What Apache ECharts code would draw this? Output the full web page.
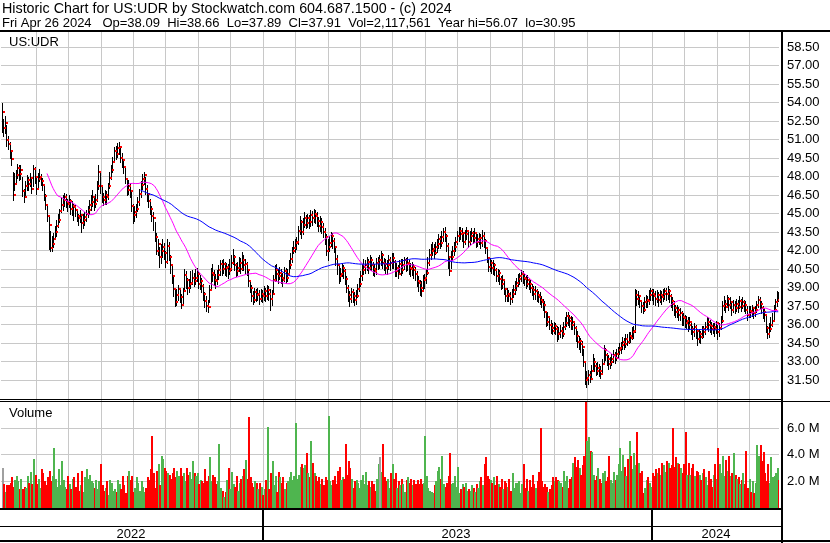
<!DOCTYPE html>
<html>
<head>
<meta charset="utf-8">
<title>Historic Chart for US:UDR</title>
<script src="https://cdn.jsdelivr.net/npm/echarts@6.0.0/dist/echarts.min.js"></script>
<style>
html,body{margin:0;padding:0;background:#fff;overflow:hidden;}
#chart{width:830px;height:543px;}
</style>
</head>
<body>
<div id="chart"></div>
<script>
// ---------------- DATA ----------------
const headerLine1 = 'Historic Chart for US:UDR by Stockwatch.com 604.687.1500 - (c) 2024';
const headerLine2 = 'Fri Apr 26 2024   Op=38.09  Hi=38.66  Lo=37.89  Cl=37.91  Vol=2,117,561  Year hi=56.07  lo=30.95';
const symbolLabel = 'US:UDR';
const volumeLabel = 'Volume';
const yearLabels = ['2022', '2023', '2024'];
const firstTradingDay = '2022-05-03';
const marketHolidays = ['2022-05-30','2022-06-20','2022-07-04','2022-09-05','2022-11-24','2022-12-26',
  '2023-01-02','2023-01-16','2023-02-20','2023-04-07','2023-05-29','2023-06-19','2023-07-04','2023-09-04',
  '2023-11-23','2023-12-25','2024-01-01','2024-01-15','2024-02-19','2024-03-29'];

const closes = [
53.2,51.9,52.3,51.0,50.6,50.1,49.4,46.5,47.4,48.1,
48.7,48.2,48.5,46.8,46.3,47.2,47.7,47.4,47.9,47.0,
48.6,48.0,47.0,47.8,48.0,47.6,47.3,46.4,45.7,44.8,
44.1,42.2,42.5,42.9,43.5,44.0,44.5,45.2,45.7,46.1,
46.3,45.9,45.8,46.0,45.4,45.6,45.5,45.3,44.8,44.6,
44.9,44.2,44.5,44.7,45.0,45.3,45.7,45.9,46.3,45.8,
46.1,47.2,48.4,47.2,46.3,46.1,46.5,46.3,47.2,47.9,
48.5,49.2,50.1,49.8,50.3,50.4,49.5,49.3,48.8,47.8,
46.9,47.2,46.8,45.6,44.9,45.1,45.4,45.9,46.6,47.3,
47.8,48.1,47.0,46.6,46.0,45.4,44.8,44.6,43.1,42.0,
42.5,41.5,42.0,42.3,41.8,41.1,42.4,41.5,40.8,39.9,
38.9,37.8,38.4,38.9,38.2,37.6,38.7,40.0,39.6,39.0,
39.3,39.4,39.8,39.5,39.8,40.1,39.3,39.5,39.1,38.5,
37.9,37.5,37.4,38.8,40.2,40.0,39.6,39.5,40.0,40.4,
40.9,40.5,40.9,40.6,40.7,40.3,40.5,41.0,41.5,40.8,
40.3,40.6,41.0,40.5,41.2,40.8,40.9,40.4,39.5,39.0,
38.3,38.0,38.6,38.4,38.5,38.1,38.5,38.3,38.7,38.3,
38.8,38.5,38.1,38.5,39.6,40.4,40.1,39.9,40.2,39.8,
39.6,40.3,39.8,40.1,40.8,41.3,42.0,42.2,42.6,42.7,
43.6,44.3,43.5,44.1,44.6,44.2,44.6,44.3,44.9,44.6,
45.0,44.8,44.4,44.0,44.3,43.9,43.5,43.1,42.0,42.3,
42.6,43.2,42.8,42.3,41.3,40.8,39.9,40.1,40.6,40.3,
39.7,39.0,38.4,38.1,38.6,38.3,38.0,38.3,38.9,39.3,
39.9,40.4,40.7,40.8,41.1,40.6,41.2,40.8,40.5,40.3,
41.0,41.2,41.2,41.6,41.0,40.9,40.6,40.8,41.2,41.0,
41.4,41.1,40.3,40.6,40.1,40.9,40.4,40.8,41.2,40.9,
41.0,40.6,40.5,40.7,40.4,40.1,39.5,39.4,39.0,38.7,
39.6,39.8,40.2,41.0,41.6,42.0,42.1,41.8,42.3,42.5,
42.9,42.6,43.1,43.5,43.2,42.4,41.5,40.3,41.5,42.0,
42.3,42.7,43.2,43.6,43.3,43.4,42.7,43.3,43.6,42.7,
43.2,43.4,43.0,43.4,42.7,42.9,43.0,42.6,43.2,42.8,
42.2,41.4,40.7,41.0,40.6,40.8,40.4,39.9,40.2,39.7,
39.3,39.6,38.9,38.3,38.5,38.3,38.1,38.5,38.8,39.1,
39.4,39.7,39.9,40.1,39.8,39.7,39.3,39.6,39.3,39.0,
38.8,38.5,38.7,38.4,38.2,38.0,37.8,37.6,37.0,36.2,
36.6,36.0,35.7,35.5,35.9,35.6,35.2,35.3,35.5,35.2,
35.8,36.1,36.7,36.5,36.3,36.0,36.2,35.7,35.1,34.6,
34.7,34.4,34.2,33.0,31.5,31.7,31.9,31.6,32.2,33.0,
32.6,32.2,32.5,32.2,32.0,32.8,33.9,33.5,33.2,32.8,
33.0,33.2,33.5,33.3,33.6,33.9,34.1,34.3,34.6,34.4,
34.8,34.6,35.1,34.9,35.4,35.5,38.4,38.1,38.3,37.9,
37.5,37.2,37.8,38.0,37.9,38.4,38.7,38.5,38.3,38.1,
38.4,38.0,38.4,38.2,38.5,38.7,38.5,38.7,38.3,37.9,
37.7,37.3,37.0,37.2,36.8,36.9,36.6,36.5,36.1,36.3,
36.0,36.2,35.6,35.4,35.8,35.5,34.8,35.2,35.0,35.6,
35.4,35.8,36.2,36.0,35.9,35.6,35.8,35.6,36.1,35.4,
35.7,36.3,37.5,37.7,37.4,38.1,37.6,37.8,37.2,37.6,
37.3,37.7,37.4,37.9,37.5,37.8,37.6,37.2,36.8,37.1,
37.0,37.3,36.9,37.2,37.6,38.0,37.7,37.3,37.0,36.8,
35.7,35.2,35.6,36.0,36.3,37.2,37.8,38.0,37.91
];

const highs = [
54.0,52.7,52.9,52.2,51.3,50.8,50.0,48.4,48.3,48.5,
49.0,48.9,48.9,48.0,47.0,47.6,48.1,48.0,48.3,48.0,
48.9,48.8,48.0,48.3,48.6,48.2,47.9,47.3,46.6,45.6,
44.9,43.6,43.2,43.4,44.0,44.5,45.0,45.4,46.3,46.5,
46.7,46.6,46.2,46.5,46.2,46.0,45.8,45.7,45.4,45.0,
45.3,44.9,45.0,45.1,45.3,45.6,46.1,46.5,46.9,46.4,
46.6,47.6,48.9,48.3,47.3,46.7,46.9,46.8,47.5,48.4,
48.9,49.6,50.4,50.5,50.7,50.8,50.4,49.9,49.4,48.8,
47.9,47.7,47.5,46.9,45.8,45.6,45.8,46.3,47.0,47.6,
48.2,48.4,48.0,47.3,46.7,46.2,45.6,45.1,44.3,43.4,
42.9,42.3,42.5,42.9,42.6,42.0,42.9,42.7,41.6,40.8,
39.9,38.9,38.9,39.2,38.9,38.5,39.0,40.5,40.3,39.8,
39.7,40.3,40.4,40.2,40.5,40.6,40.3,40.0,39.8,39.3,
38.6,38.3,38.0,39.2,40.6,40.9,40.4,40.1,40.4,40.8,
41.2,41.2,41.3,41.1,41.0,40.9,41.3,41.6,42.1,41.6,
41.0,41.1,41.5,41.4,41.9,41.6,41.3,41.1,40.4,39.6,
39.2,38.7,39.0,38.9,39.0,38.8,38.9,38.8,39.1,39.0,
39.2,39.1,38.9,38.8,40.0,40.8,40.9,40.5,40.7,40.5,
40.2,40.7,40.6,40.5,41.2,41.8,42.3,42.8,42.9,43.1,
44.0,44.8,44.5,44.6,45.1,44.9,45.0,44.9,45.3,45.2,
45.4,45.3,45.1,44.7,44.8,44.6,44.2,43.8,43.3,42.9,
43.2,43.5,43.4,43.0,42.3,41.6,40.9,40.6,41.0,40.8,
40.5,39.9,39.2,38.7,39.0,38.9,38.6,38.8,39.3,39.8,
40.3,40.9,41.3,41.2,41.5,41.3,41.6,41.5,41.1,40.9,
41.4,41.5,41.6,42.0,41.8,41.4,41.3,41.2,41.6,41.5,
41.8,41.8,41.2,41.0,40.8,41.2,41.3,41.3,41.5,41.4,
41.5,41.2,41.0,41.1,40.9,40.7,40.3,39.9,39.6,39.5,
40.0,40.1,40.5,41.5,42.1,42.5,42.7,42.5,42.7,42.9,
43.3,43.2,43.6,43.8,43.9,43.3,42.6,41.4,42.0,42.4,
42.7,43.1,43.6,43.9,43.9,43.8,43.5,43.7,43.9,43.6,
43.6,43.8,43.6,43.8,43.5,43.3,43.4,43.3,43.7,43.5,
42.9,42.3,41.5,41.4,41.2,41.2,41.0,40.6,40.5,40.4,
39.9,40.0,39.6,39.0,39.0,38.8,38.6,38.9,39.2,39.5,
39.8,40.1,40.2,40.4,40.3,40.1,40.0,40.0,39.8,39.6,
39.3,39.1,39.1,38.9,38.7,38.6,38.3,38.1,37.9,37.1,
37.0,36.7,36.4,36.1,36.2,36.1,35.9,35.8,36.0,35.8,
36.2,36.6,37.0,37.0,36.8,36.7,36.6,36.3,35.9,35.5,
35.1,34.9,34.7,34.0,33.0,32.2,32.3,32.2,32.7,33.6,
33.3,32.9,33.0,32.8,32.6,33.2,34.3,34.1,33.7,33.5,
33.4,33.6,33.9,33.8,34.0,34.2,34.5,34.6,35.0,34.9,
35.2,35.2,35.4,35.4,35.8,35.9,38.9,38.8,38.7,38.4,
38.0,37.8,38.2,38.4,38.3,38.8,39.0,38.9,38.9,38.7,
38.8,38.6,38.8,38.7,38.9,39.0,39.0,39.1,38.9,38.5,
38.2,37.9,37.6,37.6,37.4,37.3,37.1,36.9,36.8,36.7,
36.6,36.6,36.3,35.9,36.1,36.0,35.6,35.6,35.5,35.9,
35.9,36.2,36.6,36.5,36.4,36.2,36.1,36.1,36.3,36.0,
36.1,36.7,37.9,38.3,38.0,38.4,38.2,38.2,37.9,38.0,
37.9,38.1,38.0,38.3,38.1,38.2,38.0,37.9,37.5,37.5,
37.5,37.6,37.4,37.5,37.9,38.3,38.2,37.9,37.5,37.3,
36.8,35.9,36.1,36.6,36.9,37.6,38.1,38.7,38.66
];

const lows = [
51.6,51.3,51.5,50.5,50.2,49.5,48.9,46.1,46.9,47.4,
47.9,47.7,47.8,46.4,45.9,46.3,46.9,46.9,47.2,46.7,
47.2,47.5,46.6,47.0,47.6,47.3,46.9,46.1,45.4,44.4,
42.1,42.0,42.0,42.3,42.9,43.2,43.9,44.3,45.1,45.3,
45.6,45.5,45.2,45.5,45.0,44.9,44.5,44.8,44.4,44.1,
44.3,43.5,43.8,44.1,44.4,44.7,45.0,45.3,45.6,45.3,
45.5,46.0,47.0,46.7,45.9,45.7,45.8,45.8,46.2,47.1,
47.8,48.4,49.3,49.4,49.6,49.8,49.2,48.8,48.3,47.5,
46.5,46.6,46.3,45.2,44.2,44.4,44.7,45.2,45.7,46.3,
47.0,47.4,46.6,46.0,45.5,45.0,44.4,43.7,42.8,41.7,
41.6,40.7,41.0,41.5,41.3,40.7,41.0,41.2,40.2,39.4,
38.3,37.5,37.6,38.0,37.8,37.3,37.7,38.8,39.0,38.5,
38.6,39.0,39.3,39.1,39.3,39.5,39.0,38.9,38.6,38.0,
37.4,37.1,37.0,37.8,38.9,39.5,39.2,39.0,39.3,39.7,
40.0,40.0,40.2,40.0,39.9,39.8,40.1,40.4,40.9,40.4,
39.9,40.0,40.3,40.2,40.4,40.4,40.2,40.0,39.1,38.6,
37.9,37.7,37.8,37.9,38.0,37.7,37.9,37.8,38.0,37.9,
38.1,38.0,37.2,37.6,38.6,39.5,39.6,39.4,39.7,39.4,
39.1,39.5,39.4,39.5,40.0,40.6,41.1,41.8,41.9,42.1,
42.5,43.3,43.0,43.3,43.9,43.8,43.9,43.8,44.0,44.1,
44.3,44.2,44.0,43.6,43.6,43.4,43.1,42.5,41.6,41.2,
42.0,42.4,42.2,41.9,40.8,40.1,39.4,39.5,39.9,39.8,
39.3,38.6,37.9,37.5,37.8,37.8,37.6,37.7,38.2,38.7,
39.1,39.6,40.1,40.2,40.4,40.2,40.5,40.4,40.0,39.9,
40.1,40.5,40.6,40.8,40.6,40.4,40.2,40.1,40.5,40.4,
40.6,40.6,39.9,39.9,39.8,40.2,40.0,40.2,40.5,40.3,
40.4,40.1,39.9,40.0,39.8,39.6,39.1,38.7,38.4,38.3,
38.8,39.0,39.4,40.1,40.8,41.3,41.6,41.4,41.7,41.9,
42.2,42.2,42.4,42.8,42.8,42.0,40.6,40.0,40.6,41.2,
41.6,42.0,42.5,42.8,42.9,42.8,42.3,42.5,42.9,42.3,
42.5,42.8,42.6,42.7,42.3,42.4,42.5,42.2,42.4,42.3,
41.8,41.1,40.3,40.3,40.2,40.1,40.0,39.5,39.5,39.3,
38.9,39.0,38.5,37.9,37.9,37.9,37.7,37.8,38.2,38.5,
38.8,39.1,39.3,39.5,39.4,39.2,39.0,39.1,38.9,38.6,
38.4,38.1,38.1,37.9,37.8,37.7,37.4,37.2,36.6,35.9,
36.0,35.6,35.3,35.2,35.3,35.2,34.7,34.8,35.0,34.9,
35.1,35.6,35.9,36.0,35.8,35.6,35.6,35.2,34.7,34.2,
34.0,33.8,33.5,32.6,31.2,30.95,31.2,31.3,31.7,32.3,
32.2,31.9,32.0,31.8,31.7,32.1,32.9,33.1,32.7,32.4,
32.5,32.7,33.0,32.9,33.1,33.3,33.6,33.7,34.0,34.0,
34.2,34.3,34.5,34.6,34.8,34.9,35.4,37.6,37.7,37.4,
37.0,36.9,37.1,37.4,37.4,37.7,38.0,38.0,37.7,37.6,
37.8,37.5,37.8,37.7,37.9,38.1,38.0,38.1,37.8,37.4,
37.2,36.8,36.6,36.6,36.4,36.4,36.0,36.0,35.8,35.7,
35.5,35.6,35.2,34.8,35.1,34.9,34.3,34.6,34.5,34.9,
35.0,35.2,35.6,35.5,35.4,35.2,35.3,35.1,35.3,34.8,
35.1,35.6,36.2,37.2,37.0,37.4,37.2,37.3,36.8,37.0,
36.9,37.1,37.0,37.3,37.1,37.3,37.1,36.9,36.4,36.6,
36.6,36.7,36.5,36.7,37.0,37.4,37.3,36.9,36.5,36.3,
35.4,34.9,35.0,35.5,35.9,36.3,37.1,37.5,37.89
];

// daily volume, millions of shares
const volumes = [
3.0,1.8,1.2,1.7,1.7,1.9,2.3,1.6,2.1,2.4,2.0,1.4,2.2,
1.4,1.6,1.5,2.4,1.9,2.7,1.8,3.7,2.5,1.8,2.2,1.5,
2.9,2.6,2.0,1.7,2.3,2.8,2.0,2.4,4.5,2.2,1.6,2.9,1.7,
3.5,2.1,1.6,1.4,2.4,1.8,1.4,2.2,2.3,1.6,2.6,1.3,
1.7,2.8,1.2,2.3,2.9,2.2,2.5,2.0,1.9,1.5,2.1,1.4,2.0,
3.3,1.7,1.3,1.5,2.0,1.0,2.1,1.9,1.3,1.4,1.2,2.1,1.8,
1.4,2.4,1.7,1.1,2.4,2.8,2.1,2.4,1.2,1.5,2.3,1.9,1.3,
2.0,1.6,1.2,1.5,2.3,2.1,2.9,5.4,2.6,1.5,2.8,3.3,1.7,
3.9,3.7,3.0,2.8,2.6,2.5,2.2,2.6,3.0,2.3,2.8,2.4,3.0,
2.4,2.6,2.0,3.0,2.5,2.7,2.2,3.5,2.6,2.4,2.6,1.8,2.1,
2.0,1.9,2.9,2.0,2.4,3.8,2.0,2.5,2.3,1.8,2.0,4.8,1.5,
1.3,0.8,1.2,2.1,3.0,1.4,2.7,1.8,1.6,2.4,1.3,1.9,2.2,
2.4,2.9,3.6,2.2,6.8,2.3,1.9,1.6,2.0,1.9,1.4,1.9,1.6,
1.0,1.4,2.1,6.1,1.4,2.6,3.5,1.7,2.4,1.2,2.7,2.3,1.9,
2.3,1.4,1.9,2.0,2.3,2.7,2.1,2.4,6.4,2.2,2.5,3.1,3.3,
3.0,3.2,4.1,2.6,2.3,5.0,3.4,2.6,2.4,2.0,2.3,1.8,
2.2,1.7,2.3,2.1,6.9,2.0,1.7,2.1,2.4,1.8,2.8,3.1,2.1,
2.3,2.2,4.8,2.5,3.5,3.0,2.2,1.5,2.0,2.1,1.9,1.5,2.1,
2.5,1.8,2.7,1.7,2.0,1.6,2.0,1.8,1.3,2.2,3.3,3.8,
2.7,4.8,2.3,2.0,2.2,1.5,2.6,3.3,2.2,2.6,1.5,2.0,1.7,
2.2,1.8,1.2,2.1,2.3,1.9,2.2,1.7,2.1,1.8,
2.1,1.8,2.2,1.8,1.9,5.4,2.4,1.5,1.3,1.2,1.1,1.7,2.0,
2.8,3.1,2.2,3.9,1.8,1.6,1.9,2.4,4.1,1.8,1.9,2.4,1.6,
3.1,1.1,1.4,1.8,1.6,1.9,1.3,1.4,1.3,1.7,1.5,1.2,1.8,
1.5,2.0,2.3,1.7,3.3,3.8,2.4,2.2,2.1,1.9,2.3,1.7,
2.4,1.8,1.6,2.2,1.4,2.0,1.9,1.6,2.2,1.3,2.6,1.5,1.9,
1.9,2.0,1.1,1.8,3.3,1.5,2.2,1.3,2.1,1.6,2.5,1.8,1.5,
2.0,2.7,6.0,2.0,1.6,1.8,1.6,1.2,1.4,1.7,2.3,2.0,2.3,
2.1,2.0,1.9,1.6,2.8,2.0,2.4,1.5,2.2,2.3,3.4,3.8,3.1,
3.6,3.0,2.5,3.2,3.9,8.2,5.0,5.3,4.3,4.2,2.5,2.1,2.4,
3.0,2.2,1.9,2.6,2.8,2.0,2.3,3.9,2.1,1.9,2.7,2.1,2.5,
3.3,4.5,2.8,4.0,3.1,2.4,3.7,5.0,3.9,2.9,4.1,3.2,
5.7,3.4,2.6,2.8,1.1,1.5,2.1,2.3,1.9,1.6,2.6,2.4,2.9,
2.6,3.0,2.5,3.4,3.2,2.7,3.5,3.4,3.0,3.2,6.0,3.1,3.8,
3.4,3.3,3.0,2.6,3.3,5.7,2.5,3.4,2.5,3.0,3.3,2.4,2.8,
2.7,2.5,2.1,2.6,2.9,2.3,1.7,2.8,2.2,1.6,2.5,3.3,2.2,
4.5,3.3,2.6,3.9,2.4,3.6,2.8,3.9,2.4,2.6,4.1,2.5,2.2,
2.3,1.8,2.1,2.6,1.8,4.3,1.5,2.2,1.2,2.0,1.1,1.9,
4.7,3.9,4.7,3.5,4.2,2.6,2.0,3.3,1.9,3.8,2.3,2.4,2.6,3.0,2.12
];

// ---------------- DERIVED ----------------
const N = closes.length;
function tradingDays(startISO, n) {
  const out = [];
  const d = new Date(startISO + 'T00:00:00Z');
  while (out.length < n) {
    const dow = d.getUTCDay();
    const iso = d.toISOString().slice(0, 10);
    if (dow !== 0 && dow !== 6 && marketHolidays.indexOf(iso) < 0) out.push(iso);
    d.setUTCDate(d.getUTCDate() + 1);
  }
  return out;
}
const dates = tradingDays(firstTradingDay, N);
function sma(src, n) {
  return src.map((v, i) => {
    if (i < n - 1) return null;
    let s = 0;
    for (let k = i - n + 1; k <= i; k++) s += src[k];
    return +(s / n).toFixed(3);
  });
}
const ma30 = sma(closes, 30);
const ma90 = sma(closes, 90);
const UP = '#4fb54f', DOWN = '#ff0000', FLAT = '#a0a0a0';
const volColors = closes.map((c, i) => (i === 0 || c === closes[i - 1]) ? FLAT : (c > closes[i - 1] ? UP : DOWN));

const FONT = '"Liberation Sans", Arial, Helvetica, sans-serif';
const GRIDC = '#c8c8c8';
const labelStyle = { color: '#000', fontSize: 13, fontFamily: FONT };

function hlRender(params, api) {
  const i = api.value(0);
  const a = api.coord([i, api.value(1)]);
  const b = api.coord([i, api.value(2)]);
  const x = Math.round(a[0]) + 0.5;
  return { type: 'line', shape: { x1: x, y1: Math.round(a[1]), x2: x, y2: Math.round(b[1]) + 1 },
    style: { stroke: '#000', lineWidth: 1 } };
}
function closeRender(params, api) {
  const i = api.value(0);
  const c = api.coord([i, api.value(1)]);
  return { type: 'rect', shape: { x: Math.round(c[0]) + 1, y: Math.round(c[1]) - 1, width: 2, height: 2 },
    style: { fill: '#ff0000' } };
}
function volRender(params, api) {
  const i = api.value(0);
  const t = api.coord([i, api.value(1)]);
  const b = api.coord([i, 0]);
  return { type: 'rect', shape: { x: Math.round(t[0]), y: Math.round(t[1]), width: 2, height: Math.round(b[1]) - Math.round(t[1]) },
    style: { fill: volColors[i] } };
}

const hiddenCat = { axisLine: { show: false }, axisTick: { show: false }, axisLabel: { show: false }, splitLine: { show: false } };
const txt = (text, x, y, align, size) => ({ type: 'text', x: x, y: y, z: 100,
  style: { text: text, font: (size || 13) + 'px ' + FONT, fill: '#000', textAlign: align || 'left', textVerticalAlign: 'middle' } });
const box = (x, y, w, h, fill) => ({ type: 'rect', z: 99, shape: { x: x, y: y, width: w, height: h }, style: { fill: fill || '#000' } });

const chart = echarts.init(document.getElementById('chart'), null, { renderer: 'canvas', width: 830, height: 543 });
chart.setOption({
  animation: false,
  backgroundColor: '#ffffff',
  grid: [
    { left: 1, top: 28.5, width: 778, height: 370 },
    { left: 1, top: 401.33, width: 778, height: 106.67 },
    { left: 3.6, top: 32, width: 778, height: 476 }
  ],
  xAxis: [
    Object.assign({ type: 'category', gridIndex: 0, data: dates }, hiddenCat),
    Object.assign({ type: 'category', gridIndex: 1, data: dates }, hiddenCat),
    { type: 'value', gridIndex: 2, min: 0, max: 24, interval: 1,
      axisLine: { show: false }, axisTick: { show: false }, axisLabel: { show: false },
      splitLine: { show: true, showMinLine: false, showMaxLine: false, lineStyle: { color: GRIDC, width: 1 } } }
  ],
  yAxis: [
    { type: 'value', gridIndex: 0, position: 'right', min: 30, max: 60, interval: 1.5,
      axisLine: { show: false }, axisTick: { show: false },
      axisLabel: Object.assign({ margin: 8, showMinLabel: false, showMaxLabel: false, formatter: v => v.toFixed(2) }, labelStyle),
      splitLine: { show: true, showMinLine: false, showMaxLine: false, lineStyle: { color: GRIDC, width: 1 } } },
    { type: 'value', gridIndex: 1, position: 'right', min: 0, max: 8, interval: 2,
      axisLine: { show: false }, axisTick: { show: false },
      axisLabel: Object.assign({ margin: 8, showMinLabel: false, showMaxLabel: false, formatter: v => v.toFixed(1) + ' M' }, labelStyle),
      splitLine: { show: true, showMinLine: false, showMaxLine: false, lineStyle: { color: GRIDC, width: 1 } } },
    { type: 'value', gridIndex: 2, show: false, min: 0, max: 1 }
  ],
  series: [
    { type: 'custom', name: 'range', xAxisIndex: 0, yAxisIndex: 0, silent: true, clip: true, z: 2,
      renderItem: hlRender, encode: { x: 0, y: [1, 2] },
      data: closes.map((c, i) => [i, highs[i], lows[i]]) },
    { type: 'custom', name: 'close', xAxisIndex: 0, yAxisIndex: 0, silent: true, clip: true, z: 3,
      renderItem: closeRender, encode: { x: 0, y: 1 },
      data: closes.map((c, i) => [i, c]) },
    { type: 'line', name: 'MA30', xAxisIndex: 0, yAxisIndex: 0, data: ma30, showSymbol: false, symbol: 'none',
      silent: true, z: 4, lineStyle: { color: '#ff00ff', width: 1 } },
    { type: 'line', name: 'MA90', xAxisIndex: 0, yAxisIndex: 0, data: ma90, showSymbol: false, symbol: 'none',
      silent: true, z: 5, lineStyle: { color: '#0000ff', width: 1 } },
    { type: 'custom', name: 'volume', xAxisIndex: 1, yAxisIndex: 1, silent: true, clip: true, z: 2,
      renderItem: volRender, encode: { x: 0, y: 1 },
      data: volumes.map((v, i) => [i, v]) }
  ],
  graphic: { elements: [
    box(0, 0, 830, 30, '#ffffff'),
    txt(headerLine1, 2, 9.5, 'left', 14.3),
    txt(headerLine2, 2, 23),
    box(0, 30, 830, 2),
    txt(symbolLabel, 9, 42),
    box(0, 399, 781, 1),
    box(0, 401, 830, 1),
    txt(volumeLabel, 9, 413),
    box(0, 508, 781, 2),
    box(0, 526, 781, 1),
    box(0, 540, 830, 2),
    box(262, 509, 2, 32),
    box(651, 509, 2, 32),
    txt(yearLabels[0], 131, 534.5, 'center'),
    txt(yearLabels[1], 456, 534.5, 'center'),
    txt(yearLabels[2], 716, 534.5, 'center'),
    box(781, 30, 2, 513)
  ] }
});
</script>
</body>
</html>
